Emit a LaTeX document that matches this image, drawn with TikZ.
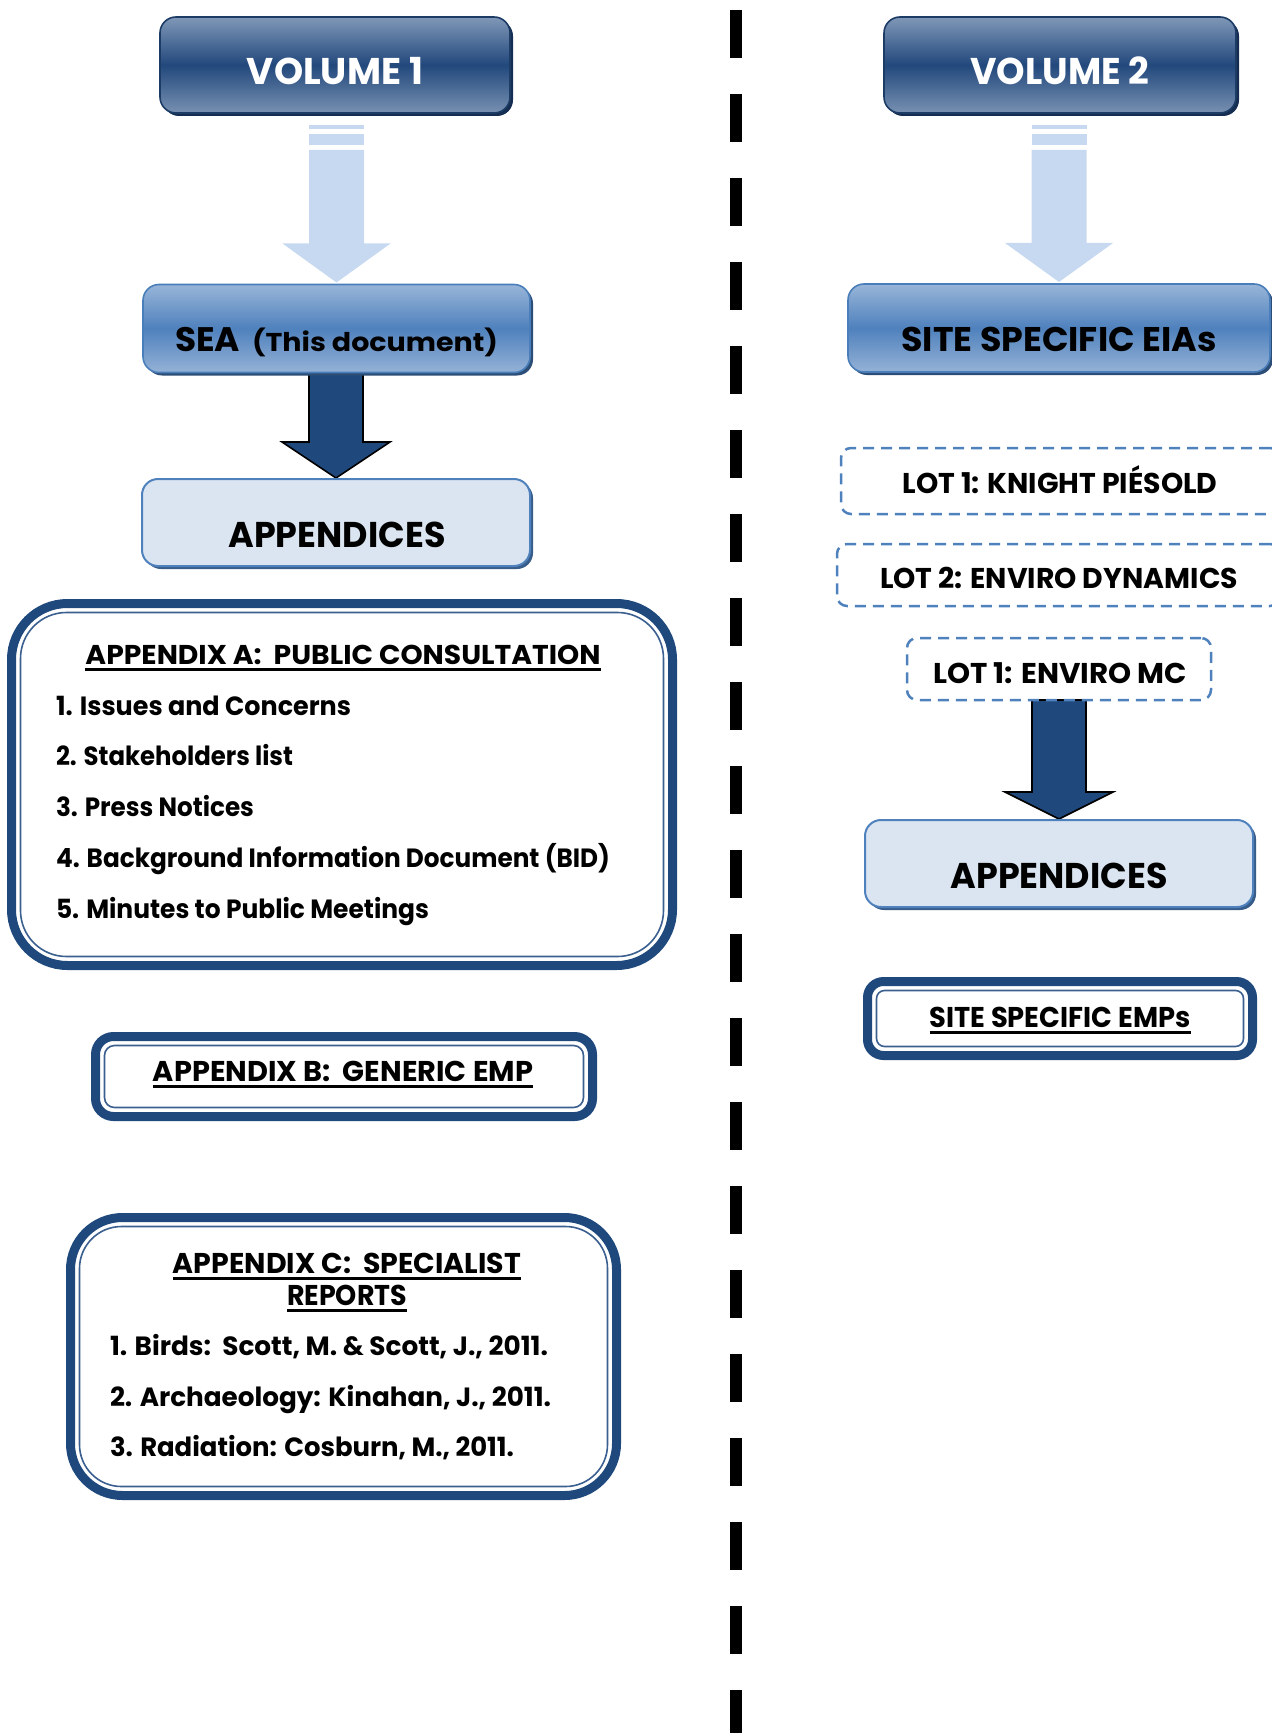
\documentclass[tikz,border=0pt]{standalone}
\usepackage{fontspec}
\setmainfont{Poppins}
\usepackage{graphicx}
\usetikzlibrary{calc,backgrounds}

% palette
\definecolor{navy}{RGB}{31,73,125}
\definecolor{volTop}{RGB}{128,152,184}
\definecolor{volMid}{RGB}{34,72,124}
\definecolor{volBot}{RGB}{120,145,178}
\definecolor{volEdge}{RGB}{28,60,102}
\definecolor{volShadow}{RGB}{20,45,80}
\definecolor{seaTop}{RGB}{152,181,216}
\definecolor{seaMid}{RGB}{79,129,189}
\definecolor{seaBot}{RGB}{149,178,214}
\definecolor{seaEdge}{RGB}{74,126,187}
\definecolor{seaShadow}{RGB}{44,77,117}
\definecolor{appFill}{RGB}{219,229,241}
\definecolor{appEdge}{RGB}{79,129,189}
\definecolor{appShadow}{RGB}{56,93,138}
\definecolor{softblue}{RGB}{198,217,240}
\definecolor{lotblue}{RGB}{79,129,189}
\definecolor{innerline}{RGB}{59,96,144}

% text helpers
\newcommand\fsz[1]{\fontsize{#1pt}{#1pt}\selectfont\bfseries}
\newcommand\ulbox[1]{\setbox0=\hbox{#1}\rlap{\rule[-3.6pt]{\wd0}{1.4pt}}\box0}
\newcommand\fitw[2]{\resizebox{#1pt}{\height}{#2}}

\tikzset{
  txt/.style={inner sep=0, outer sep=0, anchor=base},
  txtl/.style={inner sep=0, outer sep=0, anchor=base west},
  volbox/.style={rectangle, rounded corners=8pt, draw=volEdge, line width=0.8pt,
    top color=volTop, bottom color=volBot, middle color=volMid,
    preaction={fill=volShadow, transform canvas={xshift=1.5pt,yshift=-1.5pt}},
    inner sep=0, outer sep=0, minimum height=48pt},
  seabox/.style={rectangle, rounded corners=8pt, draw=seaEdge, line width=0.8pt,
    top color=seaTop, bottom color=seaBot, middle color=seaMid,
    preaction={fill=seaShadow, transform canvas={xshift=1.5pt,yshift=-1.5pt}},
    inner sep=0, outer sep=0, minimum height=44pt},
  appbox/.style={rectangle, rounded corners=8pt, draw=appEdge, line width=1pt,
    fill=appFill,
    preaction={fill=appShadow, transform canvas={xshift=1.5pt,yshift=-1.5pt}},
    inner sep=0, outer sep=0, minimum width=194pt, minimum height=43.5pt},
  lotbox/.style={rectangle, rounded corners=5pt, draw=lotblue, line width=1.25pt,
    dash pattern=on 5.5pt off 3.5pt, inner sep=0, outer sep=0},
  framebox/.style={rectangle, draw=navy, line width=4.5pt, fill=white,
    inner sep=0, outer sep=0},
  framein/.style={draw=innerline, line width=0.8pt},
  darkarrow/.style={fill=navy, draw=black, line width=0.8pt, line join=miter},
  divider/.style={draw=black, line width=6pt, dash pattern=on 24pt off 18pt}
}

% pale block arrow with two cut stripes at its tail
\newcommand\softarrow[2]{%
  \coordinate (sa-h) at (#2.north);
  \coordinate (sa-t) at (sa-h |- #1.south);
  \fill[softblue] ($(sa-t)+(-27.5,12)$) rectangle ($(sa-t)+(27.5,16)$);
  \fill[softblue] ($(sa-t)+(-27.5,21)$) rectangle ($(sa-t)+(27.5,32)$);
  \fill[softblue] ($(sa-t)+(-27.5,37)$) -- ($(sa-h)+(-27.5,-41)$) -- ($(sa-h)+(-54,-41)$)
    -- ($(sa-h)+(0,-2)$) -- ($(sa-h)+(54,-41)$) -- ($(sa-h)+(27.5,-41)$)
    -- ($(sa-t)+(27.5,37)$) -- cycle;}

% dark outlined block arrow; #3 is the head length
\newcommand\solidarrow[3]{%
  \coordinate (da-h) at (#2.north);
  \coordinate (da-t) at (da-h |- #1.south);
  \filldraw[darkarrow] ($(da-t)+(-27,0)$) -- ($(da-h)+(-27,-#3)$) -- ($(da-h)+(-54,-#3)$)
    -- ($(da-h)+(0,-1)$) -- ($(da-h)+(54,-#3)$) -- ($(da-h)+(27,-#3)$)
    -- ($(da-t)+(27,0)$) -- cycle;}

\begin{document}
\begin{tikzpicture}[x=0.5pt, y=-0.5pt]
\useasboundingbox (0,0) rectangle (1272,1733);
\clip (0,0) rectangle (1272,1733);

% ---------- left column ----------
\node[volbox, minimum width=175pt] (vol1) at (335,65) {};
\node[txt, text=white] (t1) at (335,85) {\fitw{88}{\fsz{18.6}VOLUME 1}};

\node[seabox, minimum width=193.5pt] (sea) at (336.5,328.5) {};
\node[txtl] (t3) at (175,352) {\fitw{32.5}{\fsz{17}SEA}\hspace{6pt}\fitw{123}{\fsz{12.9}(This document)}};

\node[appbox] (app1) at (336,522.5) {};
\node[txt] (t5) at (337,547) {\fitw{108.5}{\fsz{17.9}APPENDICES}};

\node[framebox, minimum width=330.5pt, minimum height=181pt, rounded corners=28pt] (appA) at (342,784.5) {};
\draw[framein, rounded corners=23pt] ($(appA.north west)+(9,9)$) rectangle ($(appA.south east)+(-9,-9)$);
\node[txt] (tA) at (343,664) {\fitw{257.5}{\ulbox{\fsz{13.6}APPENDIX A:\ \ PUBLIC CONSULTATION}}};
\node[txtl] (a1) at (56,715) {\fitw{147.5}{\fsz{13.2}1. Issues and Concerns}};
\node[txtl] (a2) at (56,765) {\fitw{118.5}{\fsz{13.2}2. Stakeholders list}};
\node[txtl] (a3) at (56,816) {\fitw{99}{\fsz{13.2}3. Press Notices}};
\node[txtl] (a4) at (56,867) {\fitw{277}{\fsz{13.2}4. Background Information Document (BID)}};
\node[txtl] (a5) at (56,918) {\fitw{186.5}{\fsz{13.2}5. Minutes to Public Meetings}};

\node[framebox, minimum width=248.5pt, minimum height=40pt, rounded corners=9pt] (appB) at (344,1076.5) {};
\draw[framein, rounded corners=5pt] ($(appB.north west)+(9,9)$) rectangle ($(appB.south east)+(-9,-9)$);
\node[txt] (tB) at (343,1081) {\fitw{190}{\ulbox{\fsz{14.3}APPENDIX B:\ \ GENERIC EMP}}};

\node[framebox, minimum width=273pt, minimum height=139pt, rounded corners=26pt] (appC) at (343.5,1356.5) {};
\draw[framein, rounded corners=21pt] ($(appC.north west)+(9,9)$) rectangle ($(appC.south east)+(-9,-9)$);
\node[txt] (tC1) at (347,1273) {\fitw{174}{\ulbox{\fsz{14.3}APPENDIX C:\ \ SPECIALIST}}};
\node[txt] (tC2) at (347,1305) {\fitw{60}{\ulbox{\fsz{14.3}REPORTS}}};
\node[txtl] (c1) at (110,1355) {\fitw{219}{\fsz{13.2}1. Birds:\ \ Scott, M. \& Scott, J., 2011.}};
\node[txtl] (c2) at (110,1406) {\fitw{220.5}{\fsz{13.2}2. Archaeology: Kinahan, J., 2011.}};
\node[txtl] (c3) at (110,1456) {\fitw{202}{\fsz{13.2}3. Radiation: Cosburn, M., 2011.}};

% ---------- right column ----------
\node[volbox, minimum width=176pt] (vol2) at (1060,65) {};
\node[txt, text=white] (t2) at (1060,85) {\fitw{89.5}{\fsz{18.6}VOLUME 2}};

\node[seabox, minimum width=211pt] (eias) at (1059,328) {};
\node[txt] (t4) at (1059,352) {\fitw{157.5}{\fsz{17.1}SITE SPECIFIC EIAs}};

\node[lotbox, minimum width=219.5pt, minimum height=33pt] (lot1) at (1060.5,481) {};
\node[txt] (t7) at (1060,493) {\fitw{157.5}{\fsz{14.3}LOT 1: KNIGHT PIÉSOLD}};
\node[lotbox, minimum width=221.5pt, minimum height=31pt] (lot2) at (1058.5,575) {};
\node[txt] (t8) at (1059,588) {\fitw{179}{\fsz{14.3}LOT 2: ENVIRO DYNAMICS}};
\node[lotbox, minimum width=152pt, minimum height=31pt] (lot3) at (1059,669) {};
\node[txt] (t9) at (1060,683) {\fitw{127}{\fsz{14.3}LOT 1: ENVIRO MC}};

\node[appbox] (app2) at (1059,863.5) {};
\node[txt] (t6) at (1059,888) {\fitw{108.5}{\fsz{17.9}APPENDICES}};

\node[framebox, minimum width=192.5pt, minimum height=37pt, rounded corners=8pt] (emps) at (1060,1018.5) {};
\draw[framein, rounded corners=4pt] ($(emps.north west)+(9,9)$) rectangle ($(emps.south east)+(-9,-9)$);
\node[txt] (t10) at (1060,1027) {\fitw{130.5}{\ulbox{\fsz{14.3}SITE SPECIFIC EMPs}}};

% ---------- connectors and divider ----------
\begin{scope}[on background layer]
  \softarrow{vol1}{sea}
  \softarrow{vol2}{eias}
  \solidarrow{sea}{app1}{37}
  \solidarrow{lot3}{app2}{28}
  \draw[divider] (736,10) -- (736,1760);
\end{scope}
\end{tikzpicture}
\end{document}
